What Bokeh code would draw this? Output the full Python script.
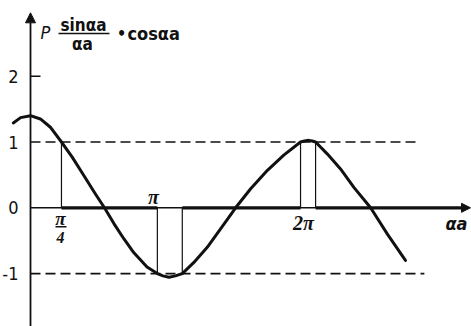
from bokeh.plotting import figure
from bokeh.models import Range1d, Arrow, NormalHead
from bokeh.core.properties import value
from bokeh.embed import file_html
from bokeh.resources import INLINE

# Curve P*sin(aa)/(aa) + cos(aa), sampled along the drawn sketch
curve_x = [-0.40, -0.23, 0.00, 0.23, 0.47, 0.72, 0.97, 1.24, 1.51, 1.72,
           1.94, 2.17, 2.40, 2.71, 2.95, 3.08, 3.22, 3.37, 3.53, 3.80,
           4.11, 4.42, 4.77, 5.12, 5.51, 5.89, 6.28, 6.37, 6.47, 6.55,
           6.63, 6.90, 7.21, 7.52, 7.91, 8.30, 8.72]
curve_y = [1.29, 1.37, 1.40, 1.35, 1.22, 1.00, 0.77, 0.49, 0.21, 0.00,
           -0.24, -0.47, -0.68, -0.90, -1.00, -1.035, -1.055, -1.035, -1.00, -0.83,
           -0.60, -0.32, 0.00, 0.29, 0.57, 0.80, 1.00, 1.015, 1.025, 1.015,
           1.00, 0.82, 0.59, 0.31, 0.00, -0.40, -0.80]

# Band edges: where the curve leaves the strip -1..1
edge_x = [0.72, 2.95, 3.53, 6.28, 6.63]
edge_y = [1, -1, -1, 1, 1]

# Allowed stretches on the aa axis (drawn heavy)
allowed_start = [0.72, 3.53, 6.63]
allowed_end = [2.95, 6.28, 10.1]

# Reference levels
levels = [1, -1]
level_end = [9.07, 9.16]

y_ticks = [2, 1, 0, -1]
y_tick_labels = ["2", "1", "0", "-1"]

PX_X = 43.0   # pixels per x unit
PX_Y = 65.8   # pixels per y unit
X_MIN, X_MAX = -30 / PX_X, 441 / PX_X
Y_MIN, Y_MAX = -118.7 / PX_Y, 207.3 / PX_Y

p = figure(width=471, height=326, x_range=Range1d(X_MIN, X_MAX),
           y_range=Range1d(Y_MIN, Y_MAX), min_border=0,
           x_axis_location=None, y_axis_location=None,
           toolbar_location=None, output_backend="svg")
p.grid.visible = False
p.outline_line_color = None
p.background_fill_color = "white"
p.border_fill_color = "white"

INK = "#111111"

# dashed reference levels
p.segment(x0=[0] * len(levels), y0=levels, x1=level_end, y1=levels,
          line_color=INK, line_width=1.6, line_dash="10 5")

# axes
p.add_layout(Arrow(x_start=0, y_start=0, x_end=440 / PX_X, y_end=0,
                   line_color=INK, line_width=1.5,
                   end=NormalHead(size=9, line_color=INK, fill_color=INK)))
p.add_layout(Arrow(x_start=0, y_start=Y_MIN, x_end=0, y_end=195 / PX_Y,
                   line_color=INK, line_width=1.8,
                   end=NormalHead(size=10, line_color=INK, fill_color=INK)))
p.segment(x0=[0], y0=[2], x1=[10 / PX_X], y1=[2], line_color=INK, line_width=1.6)

# allowed bands on the axis
p.segment(x0=allowed_start, y0=[0] * 3, x1=allowed_end, y1=[0] * 3,
          line_color=INK, line_width=3.2)

# vertical band edges
p.segment(x0=edge_x, y0=[0] * len(edge_x), x1=edge_x, y1=edge_y,
          line_color=INK, line_width=1.2)

# the curve
p.line(curve_x, curve_y, line_color=INK, line_width=3, line_join="round",
       line_cap="round")

LABEL_FONT = value("DejaVu Sans Condensed")
PI_FONT = value("Liberation Serif")

# y tick labels
p.text(x=[-12 / PX_X] * 4, y=y_ticks, text=y_tick_labels, text_align="right",
       text_baseline="middle", text_font=LABEL_FONT, text_font_size="18px",
       text_color=INK)

# x tick labels
p.text(x=[123 / PX_X], y=[11 / PX_Y], text=["π"], text_align="center",
       text_baseline="middle", text_font=PI_FONT, text_font_style="bold italic",
       text_font_size="20px", text_color=INK)
p.text(x=[273 / PX_X], y=[-15 / PX_Y], text=["2π"], text_align="center",
       text_baseline="middle", text_font=PI_FONT, text_font_style="bold italic",
       text_font_size="20px", text_color=INK)
p.text(x=[30 / PX_X], y=[-11 / PX_Y], text=["π"], text_align="center",
       text_baseline="middle", text_font=PI_FONT, text_font_style="bold italic",
       text_font_size="19px", text_color=INK)
p.segment(x0=[25 / PX_X], y0=[-19 / PX_Y], x1=[36 / PX_X], y1=[-19 / PX_Y],
          line_color=INK, line_width=1.5)
p.text(x=[30 / PX_X], y=[-30 / PX_Y], text=["4"], text_align="center",
       text_baseline="middle", text_font=PI_FONT, text_font_style="bold italic",
       text_font_size="16px", text_color=INK)
p.text(x=[426 / PX_X], y=[-16 / PX_Y], text=["αa"], text_align="center",
       text_baseline="middle", text_font=LABEL_FONT, text_font_style="bold italic",
       text_font_size="18px", text_color=INK)

# y axis title: P sin(aa)/(aa) + cos(aa)
p.text(x=[15 / PX_X], y=[175 / PX_Y], text=["P"], text_align="center",
       text_baseline="middle", text_font=LABEL_FONT, text_font_style="italic",
       text_font_size="18px", text_color=INK)
p.text(x=[53 / PX_X], y=[183 / PX_Y], text=["sinαa"], text_align="center",
       text_baseline="middle", text_font=LABEL_FONT, text_font_style="bold",
       text_font_size="17px", text_color=INK)
p.segment(x0=[28 / PX_X], y0=[174.3 / PX_Y], x1=[79 / PX_X], y1=[174.3 / PX_Y],
          line_color=INK, line_width=1.6)
p.text(x=[52 / PX_X], y=[164 / PX_Y], text=["αa"], text_align="center",
       text_baseline="middle", text_font=LABEL_FONT, text_font_style="bold",
       text_font_size="17px", text_color=INK)
p.text(x=[91 / PX_X], y=[174 / PX_Y], text=["•"], text_align="center",
       text_baseline="middle", text_font=LABEL_FONT, text_font_style="bold",
       text_font_size="16px", text_color=INK)
p.text(x=[97 / PX_X], y=[174 / PX_Y], text=["cosαa"], text_align="left",
       text_baseline="middle", text_font=LABEL_FONT, text_font_style="bold",
       text_font_size="18px", text_color=INK)

open("out.html", "w").write(file_html(p, INLINE))
